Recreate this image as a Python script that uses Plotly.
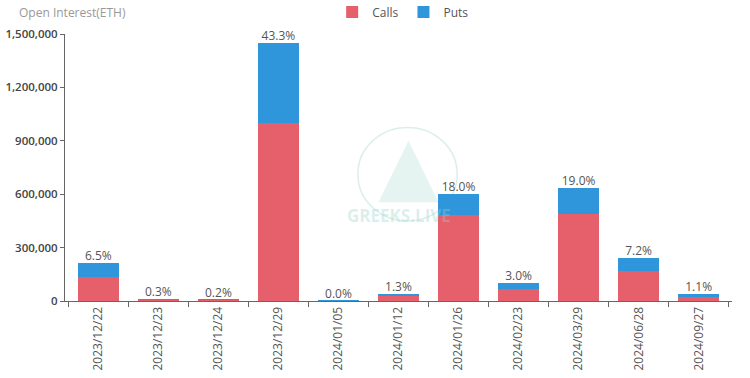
import plotly.graph_objects as go

expiries = ["2023/12/22", "2023/12/23", "2023/12/24", "2023/12/29", "2024/01/05",
            "2024/01/12", "2024/01/26", "2024/02/23", "2024/03/29", "2024/06/28", "2024/09/27"]
calls = [135000, 6000, 6000, 1000000, 300, 30000, 483000, 67000, 489000, 169000, 27000]
puts = [80000, 4000, 1000, 450000, 200, 12000, 120000, 33000, 147000, 73000, 10000]
share_pct = [6.5, 0.3, 0.2, 43.3, 0.0, 1.3, 18.0, 3.0, 19.0, 7.2, 1.1]
y_ticks = [0, 300000, 600000, 900000, 1200000, 1500000]

totals = [c + p for c, p in zip(calls, puts)]
FONT = "Open Sans, Noto Sans, sans-serif"

fig = go.Figure()
fig.add_trace(go.Bar(x=expiries, y=calls, name="Calls", marker=dict(color="#E5606A", line=dict(width=0))))
fig.add_trace(go.Bar(x=expiries, y=puts, name="Puts", marker=dict(color="#2F96DC", line=dict(width=0))))
fig.add_trace(go.Scatter(x=expiries, y=totals, mode="text",
                         text=[f"{v:.1f}%" for v in share_pct], textposition="top center",
                         textfont=dict(size=12, color="#555555", family=FONT),
                         showlegend=False, hoverinfo="skip", cliponaxis=False))

# watermark
fig.add_shape(type="circle", xref="paper", yref="paper", x0=0.439, x1=0.588, y0=0.30, y1=0.65,
              line=dict(color="rgba(150,210,200,0.35)", width=1.5), layer="below")
fig.add_shape(type="path", xref="paper", yref="paper",
              path="M 0.47,0.37 L 0.515,0.60 L 0.56,0.37 Z",
              fillcolor="rgba(150,210,200,0.25)", line=dict(width=0), layer="below")
fig.add_annotation(text="<b>GREEKS.LIVE</b>", x=0.5, y=0.27, xref="paper", yref="paper",
                   showarrow=False, font=dict(size=17, color="rgba(150,210,200,0.35)", family=FONT))

fig.add_annotation(text="Open Interest(ETH)", x=-0.072, y=1.082, xref="paper", yref="paper",
                   xanchor="left", yanchor="middle", showarrow=False,
                   font=dict(size=12, color="#999999", family=FONT))

fig.update_layout(
    width=750, height=378,
    margin=dict(l=65, r=18, t=34, b=77),
    barmode="stack", bargap=0.31,
    paper_bgcolor="white", plot_bgcolor="white",
    font=dict(family=FONT, color="#555555", size=12),
    legend=dict(orientation="h", x=0.507, xanchor="center", yref="container", y=0.968, yanchor="middle",
                font=dict(size=12, color="#555555"), traceorder="normal"),
    showlegend=True,
)
fig.update_xaxes(type="category", tickangle=-90, showline=True, linecolor="#666666", linewidth=1,
                 ticks="outside", tickson="boundaries", ticklen=5, tickcolor="#666666",
                 showgrid=False, automargin=False, tickfont=dict(size=12, color="#555555"))
fig.update_yaxes(range=[0, 1500000], tickvals=y_ticks, tickformat=",", showline=True,
                 linecolor="#666666", linewidth=1, ticks="outside", ticklen=4, tickcolor="#666666",
                 showgrid=False, zeroline=False, automargin=False,
                 tickfont=dict(size=11.5, color="#444444", weight=600))

fig.write_html("out.html", config={"displayModeBar": False},
               post_script="document.body.style.margin='0';document.body.style.overflow='hidden';")
